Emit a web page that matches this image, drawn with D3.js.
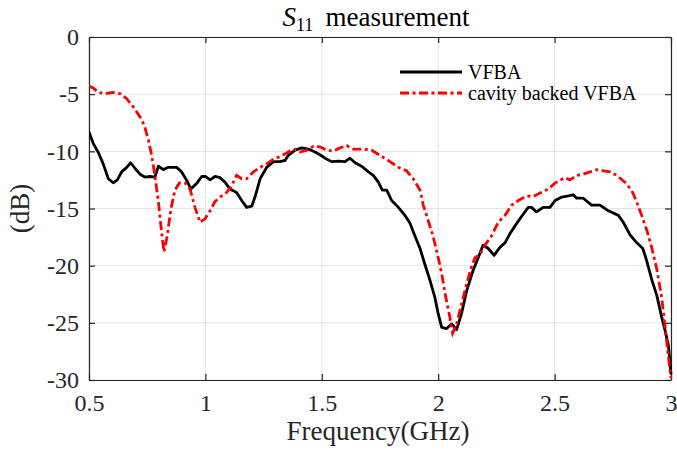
<!DOCTYPE html>
<html><head><meta charset="utf-8">
<script src="https://cdn.jsdelivr.net/npm/d3@7"></script>
<style>body{margin:0;background:#fff}svg{display:block}</style>
</head><body>
<script>
const xTicks = [0.5, 1, 1.5, 2, 2.5, 3];
const yTicks = [0, -5, -10, -15, -20, -25, -30];
const seriesNames = ["VFBA", "cavity backed VFBA"];

const vfbaFreq = [0.500,0.518,0.540,0.561,0.583,0.604,0.622,0.640,0.662,0.679,0.698,0.719,0.740,0.762,0.783,0.798,0.819,0.840,0.876,0.898,0.920,0.938,0.963,0.984,1.000,1.020,1.041,1.063,1.084,1.106,1.134,1.156,1.177,1.199,1.213,1.235,1.263,1.292,1.320,1.342,1.356,1.385,1.414,1.442,1.471,1.492,1.514,1.542,1.571,1.600,1.621,1.643,1.671,1.700,1.721,1.743,1.760,1.779,1.800,1.829,1.857,1.879,1.900,1.922,1.943,1.965,1.986,2.000,2.015,2.036,2.058,2.079,2.100,2.122,2.150,2.172,2.193,2.215,2.240,2.265,2.287,2.308,2.337,2.365,2.387,2.401,2.422,2.451,2.480,2.502,2.531,2.559,2.580,2.595,2.623,2.659,2.695,2.731,2.752,2.774,2.795,2.824,2.853,2.879,2.896,2.917,2.939,2.960,2.975,2.989,3.000];
const vfbaDb = [-8.3,-9.3,-10.1,-11.1,-12.4,-12.75,-12.5,-11.8,-11.4,-11.0,-11.5,-12.0,-12.25,-12.2,-12.25,-11.3,-11.6,-11.4,-11.4,-11.8,-12.55,-13.3,-12.8,-12.2,-12.2,-12.5,-12.2,-12.3,-12.7,-13.3,-13.6,-14.3,-14.9,-14.8,-14.0,-12.4,-11.4,-10.9,-10.9,-10.8,-10.35,-9.9,-9.7,-9.8,-10.06,-10.3,-10.6,-10.9,-10.85,-10.9,-10.6,-11.0,-11.3,-11.8,-12.1,-12.7,-13.4,-13.4,-14.3,-14.9,-15.6,-16.3,-17.4,-18.5,-19.9,-21.3,-22.8,-24.2,-25.4,-25.5,-25.1,-25.6,-24.2,-22.2,-20.4,-19.3,-18.2,-18.5,-19.1,-18.4,-18.0,-17.2,-16.3,-15.5,-14.9,-14.9,-15.3,-14.9,-14.9,-14.3,-14.0,-13.9,-13.8,-14.1,-14.1,-14.7,-14.7,-15.2,-15.4,-15.6,-16.2,-17.3,-18.0,-18.5,-19.6,-21.2,-22.6,-24.5,-25.7,-27.0,-29.5];

const cavityFreq = [0.500,0.518,0.540,0.569,0.604,0.633,0.662,0.690,0.719,0.737,0.755,0.769,0.783,0.798,0.812,0.822,0.836,0.852,0.869,0.888,0.912,0.934,0.955,0.977,0.998,1.020,1.041,1.063,1.091,1.113,1.134,1.156,1.177,1.206,1.235,1.263,1.292,1.320,1.349,1.378,1.406,1.435,1.464,1.492,1.521,1.549,1.578,1.607,1.635,1.678,1.714,1.750,1.793,1.829,1.864,1.893,1.922,1.936,1.957,1.979,2.000,2.015,2.029,2.048,2.062,2.079,2.100,2.122,2.143,2.158,2.179,2.201,2.229,2.258,2.287,2.316,2.344,2.380,2.408,2.437,2.473,2.500,2.525,2.545,2.566,2.595,2.623,2.652,2.681,2.709,2.738,2.767,2.802,2.831,2.853,2.874,2.896,2.917,2.939,2.960,2.975,2.989,2.999];
const cavityDb = [-4.3,-4.45,-4.85,-4.95,-4.85,-4.95,-5.4,-6.1,-7.0,-7.7,-9.0,-10.35,-12.1,-14.4,-17.1,-18.8,-17.4,-15.0,-13.4,-12.75,-12.75,-13.3,-14.9,-16.2,-15.9,-15.2,-14.4,-14.0,-13.6,-13.0,-12.1,-12.4,-12.4,-11.8,-11.4,-11.1,-10.7,-10.45,-10.15,-9.8,-10.06,-9.9,-9.56,-9.6,-9.9,-9.97,-9.7,-9.5,-9.8,-9.8,-9.9,-10.35,-10.9,-11.4,-11.7,-12.4,-13.4,-14.7,-16.05,-17.5,-19.3,-20.7,-22.4,-24.3,-25.9,-25.1,-23.4,-21.6,-20.1,-19.3,-19.0,-18.2,-17.4,-16.2,-15.6,-14.7,-14.3,-13.9,-13.95,-13.65,-13.3,-12.8,-12.5,-12.3,-12.5,-12.1,-12.0,-11.8,-11.6,-11.7,-11.8,-12.1,-12.7,-13.4,-14.45,-15.6,-16.9,-18.4,-20.3,-22.8,-25.4,-28.0,-29.8];

const W = 677, H = 452;
const L = 89, R = 671, T = 37, B = 380;
const serif = "'Liberation Serif', 'DejaVu Serif', serif";
const dash = "9,3.5,3,3.5";

const svg = d3.select("body").append("svg").attr("width", W).attr("height", H);
const x = d3.scaleLinear().domain([0.5, 3]).range([L, R]);
const y = d3.scaleLinear().domain([-30, 0]).range([B, T]);

// grid
const grid = svg.append("g").attr("stroke", "#e3e3e3").attr("stroke-width", 1);
grid.selectAll("line.gx").data(xTicks).join("line")
  .attr("x1", d => x(d)).attr("x2", d => x(d)).attr("y1", T).attr("y2", B);
grid.selectAll("line.gy").data(yTicks).join("line")
  .attr("y1", d => y(d)).attr("y2", d => y(d)).attr("x1", L).attr("x2", R);

// axes (MATLAB box, inward ticks)
const tickLen = 6;
const axB = svg.append("g").attr("transform", `translate(0,${B})`)
  .call(d3.axisBottom(x).tickValues(xTicks).tickFormat(d3.format("")).tickSizeInner(-tickLen).tickSizeOuter(0).tickPadding(14));
const axT = svg.append("g").attr("transform", `translate(0,${T})`)
  .call(d3.axisTop(x).tickValues(xTicks).tickFormat("").tickSizeInner(-tickLen).tickSizeOuter(0));
const axL = svg.append("g").attr("transform", `translate(${L},0)`)
  .call(d3.axisLeft(y).tickValues(yTicks).tickFormat(d3.format("")).tickSizeInner(-tickLen).tickSizeOuter(0).tickPadding(10));
const axR = svg.append("g").attr("transform", `translate(${R},0)`)
  .call(d3.axisRight(y).tickValues(yTicks).tickFormat("").tickSizeInner(-tickLen).tickSizeOuter(0));
[axB, axT, axL, axR].forEach(a => {
  a.select(".domain").attr("stroke", "#262626").attr("stroke-width", 1.2);
  a.selectAll(".tick line").attr("stroke", "#262626").attr("stroke-width", 1.2);
  a.selectAll("text").attr("font-family", serif).attr("font-size", 24).attr("fill", "#262626");
});
axL.selectAll(".tick text").text(d => d < 0 ? "-" + Math.abs(d) : String(d));

// lines
const line = d3.line().x(d => x(d[0])).y(d => y(d[1]));
const vfba = vfbaFreq.map((f, i) => [f, vfbaDb[i]]);
const cavity = cavityFreq.map((f, i) => [f, cavityDb[i]]);
svg.append("defs").append("clipPath").attr("id", "clip")
  .append("rect").attr("x", L).attr("y", T - 2).attr("width", R - L + 2).attr("height", B - T + 4);
svg.append("path").datum(vfba).attr("d", line).attr("fill", "none")
  .attr("stroke", "#000").attr("stroke-width", 2.8).attr("stroke-linejoin", "round")
  .attr("clip-path", "url(#clip)");
svg.append("path").datum(cavity).attr("d", line).attr("fill", "none")
  .attr("stroke", "#ff0000").attr("stroke-width", 2.8).attr("stroke-dasharray", dash)
  .attr("clip-path", "url(#clip)");

// legend
const legend = svg.append("g");
const legY = [72, 93];
legend.append("line").attr("x1", 400).attr("x2", 462).attr("y1", legY[0]).attr("y2", legY[0])
  .attr("stroke", "#000").attr("stroke-width", 2.8);
legend.append("line").attr("x1", 400).attr("x2", 462).attr("y1", legY[1]).attr("y2", legY[1])
  .attr("stroke", "#ff0000").attr("stroke-width", 2.8).attr("stroke-dasharray", dash);
legend.selectAll("text").data(seriesNames).join("text")
  .attr("x", 468).attr("y", (d, i) => legY[i] + 7)
  .attr("font-family", serif).attr("font-size", 20).attr("fill", "#000").text(d => d);

// title
const title = svg.append("text").attr("x", 376).attr("y", 26).attr("text-anchor", "middle")
  .attr("font-family", serif).attr("font-size", 27).attr("fill", "#000");
title.append("tspan").attr("font-style", "italic").text("S");
title.append("tspan").attr("font-size", 18).attr("dy", 5).text("11");
title.append("tspan").attr("dy", -5).text("\u2009 measurement");

// axis labels
svg.append("text").attr("x", 378).attr("y", 440).attr("text-anchor", "middle")
  .attr("font-family", serif).attr("font-size", 27).attr("fill", "#262626").text("Frequency(GHz)");
svg.append("text").attr("transform", `translate(29,${(T + B) / 2}) rotate(-90)`).attr("text-anchor", "middle")
  .attr("font-family", serif).attr("font-size", 27).attr("fill", "#262626").text("(dB)");
</script>
</body></html>
